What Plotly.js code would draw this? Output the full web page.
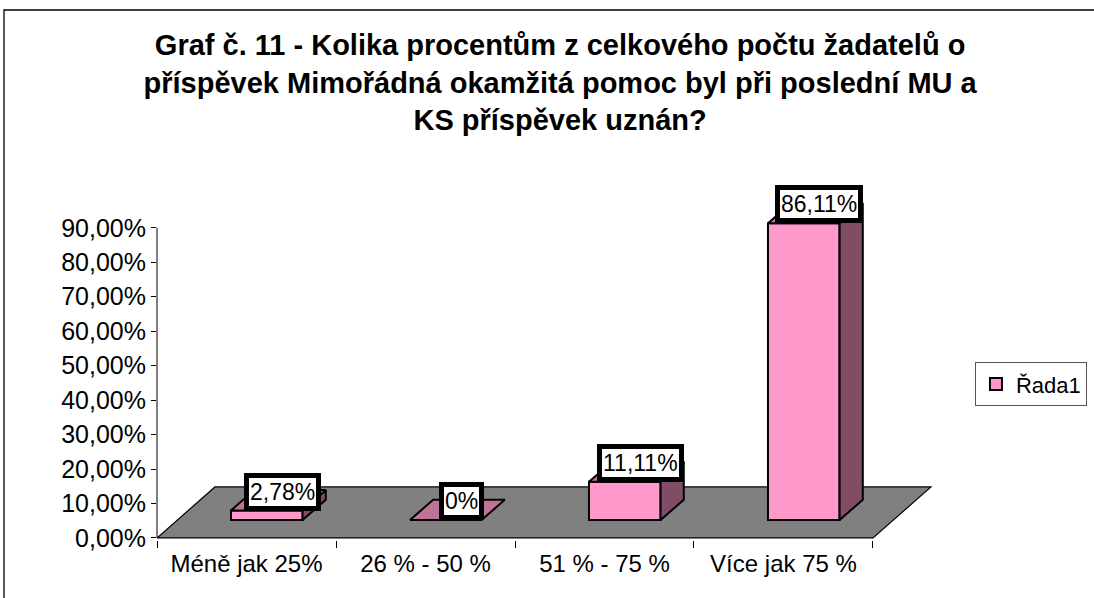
<!DOCTYPE html>
<html>
<head>
<meta charset="utf-8">
<script src="https://cdn.plot.ly/plotly-3.0.1.min.js"></script>
<style>
  html, body { margin: 0; padding: 0; background: #ffffff; overflow: hidden; }
  #chart { width: 1094px; height: 598px; }
</style>
</head>
<body>
<div id="chart"></div>
<script>
// ---- data ----
const categories = ['Méně jak 25%', '26 % - 50 %', '51 % - 75 %', 'Více jak 75 %'];
const values = [2.78, 0, 11.11, 86.11];
const valueLabels = ['2,78%', '0%', '11,11%', '86,11%'];
const seriesName = 'Řada1';
const yTickVals = [0, 10, 20, 30, 40, 50, 60, 70, 80, 90];
const yTickText = ['0,00%', '10,00%', '20,00%', '30,00%', '40,00%', '50,00%', '60,00%', '70,00%', '80,00%', '90,00%'];
const titleText = 'Graf č. 11 - Kolika procentům z celkového počtu žadatelů o<br>příspěvek Mimořádná okamžitá pomoc byl při poslední MU a<br>KS příspěvek uznán?';

// ---- 3D look (pseudo depth) ----
const DX = 0.324;   // depth offset along x (category units)
const DY = 14.8;    // depth offset along y (value units)
const D0 = 0.35, D1 = 0.75; // bar front / back depth fraction
const BW = 0.4;     // bar width
const FONT = '"Liberation Sans", Arial, sans-serif';
const n = categories.length;

const traces = [];
// front faces as real bars
traces.push({
  type: 'bar',
  name: seriesName,
  x: values.map((v, i) => i + 0.5 + D0 * DX),
  y: values,
  base: D0 * DY,
  width: BW,
  marker: { color: '#FF99CC', line: { color: '#000000', width: 2 } },
  hoverinfo: 'skip',
  showlegend: true
});
// side and top faces derived from the same values
values.forEach((v, i) => {
  const xl = i + 0.5 - BW / 2, xr = i + 0.5 + BW / 2;
  if (v > 0) {
    traces.push({
      type: 'scatter', mode: 'lines', fill: 'toself', showlegend: false, hoverinfo: 'skip',
      x: [xr + D0 * DX, xr + D1 * DX, xr + D1 * DX, xr + D0 * DX, xr + D0 * DX],
      y: [D0 * DY, D1 * DY, v + D1 * DY, v + D0 * DY, D0 * DY],
      fillcolor: '#804C66', line: { color: '#000000', width: 2 }
    });
  }
  traces.push({
    type: 'scatter', mode: 'lines', fill: 'toself', showlegend: false, hoverinfo: 'skip',
    x: [xl + D0 * DX, xr + D0 * DX, xr + D1 * DX, xl + D1 * DX, xl + D0 * DX],
    y: [v + D0 * DY, v + D0 * DY, v + D1 * DY, v + D1 * DY, v + D0 * DY],
    fillcolor: '#BF7399', line: { color: '#000000', width: 2 }
  });
});

const annotations = values.map((v, i) => ({
  x: i + 0.5 + 0.2, y: v + D0 * DY, xref: 'x', yref: 'y',
  text: valueLabels[i], showarrow: false, yshift: 19,
  font: { family: FONT, size: 23, color: '#000000' },
  bgcolor: '#ffffff', bordercolor: '#000000', borderwidth: 5, borderpad: 1
}));

const layout = {
  width: 1094, height: 598,
  paper_bgcolor: '#ffffff', plot_bgcolor: 'rgba(0,0,0,0)',
  margin: { l: 157, r: 158, t: 194, b: 58, autoexpand: false },
  font: { family: FONT, color: '#000000' },
  title: {
    text: titleText,
    font: { family: FONT, size: 29, color: '#000000', weight: 'bold' },
    xref: 'container', yref: 'container',
    x: 0.512, xanchor: 'center', y: 0.908, yanchor: 'middle'
  },
  barmode: 'overlay',
  xaxis: {
    range: [0, 4.352], showgrid: false, zeroline: false, showline: false,
    tickmode: 'array', tickvals: categories.map((c, i) => i + 0.5), ticktext: categories,
    ticks: '', tickfont: { family: FONT, size: 24, color: '#000000' },
    ticklabelstandoff: 7,
    minor: { tickmode: 'array', tickvals: categories.map((c, i) => i).concat([n]), ticks: 'outside', ticklen: 7, tickcolor: '#000000', tickwidth: 1, showgrid: false },
    automargin: false, fixedrange: true
  },
  yaxis: {
    range: [-0.6, 99.8], showgrid: false, zeroline: false, showline: false,
    tickmode: 'array', tickvals: yTickVals, ticktext: yTickText,
    ticks: 'outside', ticklen: 5, tickcolor: '#000000', tickwidth: 1,
    tickfont: { family: FONT, size: 25, color: '#000000' },
    automargin: false, fixedrange: true
  },
  legend: {
    x: 1.05, y: 0.514, xanchor: 'left', yanchor: 'top',
    bgcolor: '#ffffff', bordercolor: '#555555', borderwidth: 1,
    font: { family: FONT, size: 22, color: '#000000' }
  },
  shapes: [
    { type: 'path', xref: 'x', yref: 'y', layer: 'below',
      path: 'M0,0 L' + n + ',0 L' + (n + DX) + ',' + DY + ' L' + DX + ',' + DY + ' Z',
      fillcolor: '#808080', line: { color: '#000000', width: 1.2 } },
    { type: 'line', xref: 'paper', yref: 'y', x0: 0, x1: 0, y0: 0, y1: 90,
      line: { color: '#000000', width: 1 } },
    { type: 'path', xref: 'paper', yref: 'paper',
      path: 'M-0.1964,-0.2 L-0.1964,1.5318 L1.25,1.5318',
      line: { color: '#000000', width: 1.3 } }
  ],
  annotations: annotations
};

Plotly.newPlot('chart', traces, layout, { displayModeBar: false, staticPlot: true });
</script>
</body>
</html>
